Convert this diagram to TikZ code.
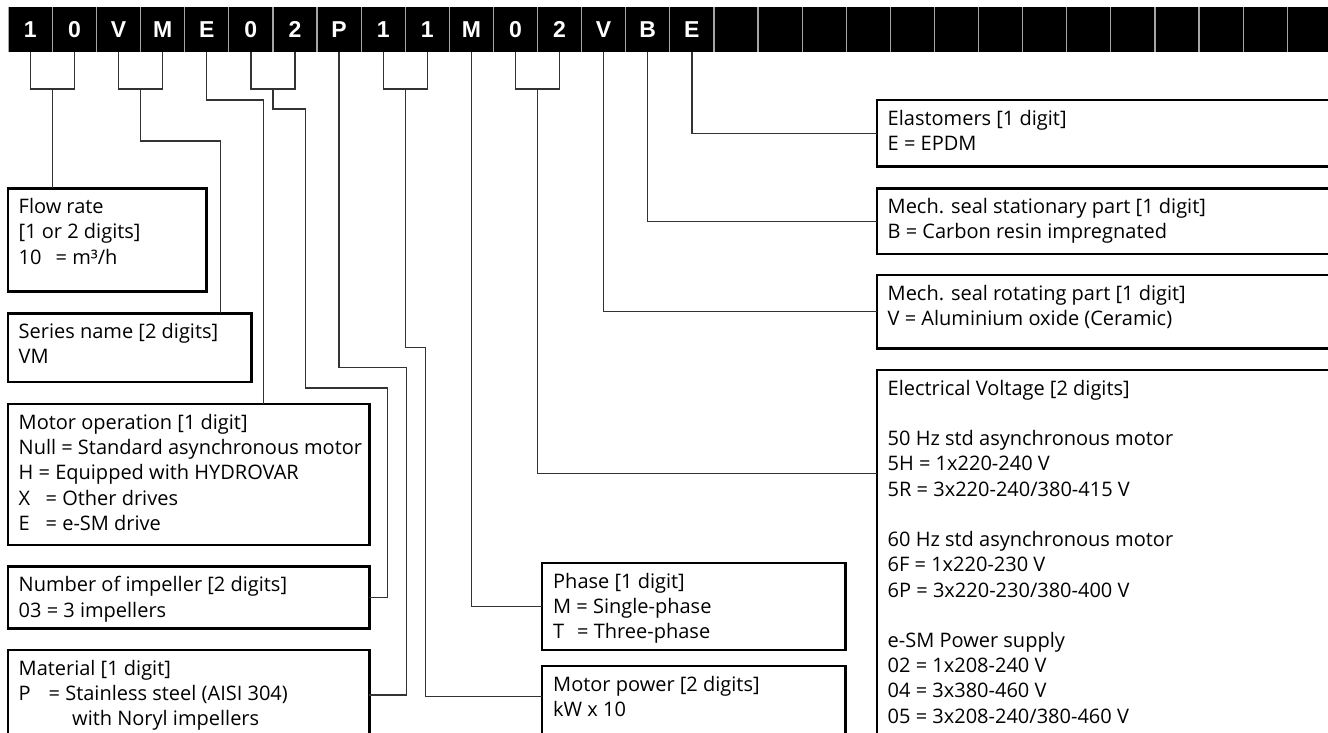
\documentclass[tikz,border=0pt]{standalone}
\usepackage{fontspec}
\setmainfont{Open Sans}
\newfontfamily\barfont{Liberation Sans}
\usetikzlibrary{calc}
\newcommand\fstrut{\rule{0pt}{20pt}}
\tikzset{
  cell/.style={anchor=north west, minimum width=44.1pt, minimum height=45pt, inner sep=0pt, outer sep=0pt,
    fill=black, text=white, font=\barfont\bfseries\fontsize{23}{23}\selectfont},
  sepline/.style={draw=black!35, line width=1.2pt},
  box/.style={draw=black, line width=2.8pt, anchor=north west, inner sep=0pt, outer sep=0pt},
  txt/.style={anchor=north west, align=left, inner sep=0pt, font=\fontsize{20}{25.3}\selectfont},
  conn/.style={draw=black!80, line width=1.3pt},
}
\begin{document}
\begin{tikzpicture}[x=1pt,y=-1pt]
\useasboundingbox (0,0) rectangle (1328,733);
\fill[white] (0,0) rectangle (1328,733);
\clip (0,0) rectangle (1328,733);
% code bar
\foreach \t [count=\n from 0] in {1,0,V,M,E,0,2,P,1,1,M,0,2,V,B,E,{},{},{},{},{},{},{},{},{},{},{},{},{},{}}
  \node[cell] (c\n) at ({8.3+44.1*\n},7) {\t};
\foreach \n in {0,...,29}
  \draw[sepline] (c\n.north west) -- (c\n.south west);
% left boxes
\node[box, minimum width=198.7pt, minimum height=103.4pt] (flow) at (8,188.3) {};
\node[box, minimum width=243.7pt, minimum height=68.7pt] (series) at (8,313.3) {};
\node[box, minimum width=361.3pt, minimum height=141pt] (motorop) at (8,404) {};
\node[box, minimum width=361.3pt, minimum height=61.6pt] (impeller) at (8,566.7) {};
\node[box, minimum width=361.3pt, minimum height=90pt] (material) at (8,650) {};
% middle boxes
\node[box, minimum width=303.7pt, minimum height=87pt] (phase) at (542,563) {};
\node[box, minimum width=303.7pt, minimum height=90pt] (power) at (542,666) {};
% right boxes
\node[box, minimum width=470pt, minimum height=66.7pt] (elast) at (877,100) {};
\node[box, minimum width=470pt, minimum height=65.7pt] (stat) at (877,188.3) {};
\node[box, minimum width=470pt, minimum height=73.3pt] (rot) at (877,275) {};
\node[box, minimum width=470pt, minimum height=400pt] (volt) at (877,370) {};
% texts
\node[txt] (tflow) at ($(flow.north west)+(10.5,5)$) {\fstrut Flow rate\\ {[}1 or 2 digits]\\ \makebox[37pt][l]{10}= m³/h};
\node[txt] (tseries) at ($(series.north west)+(10.5,5)$) {\fstrut Series name [2 digits]\\ VM};
\node[txt] (tmotorop) at ($(motorop.north west)+(10.5,5)$) {\fstrut Motor operation [1 digit]\\ Null = Standard asynchronous motor\\ H = Equipped with HYDROVAR\\ \makebox[27pt][l]{X}= Other drives\\ \makebox[27pt][l]{E}= e-SM drive};
\node[txt] (timpeller) at ($(impeller.north west)+(10.5,5)$) {\fstrut Number of impeller [2 digits]\\ 03 = 3 impellers};
\node[txt] (tmaterial) at ($(material.north west)+(10.5,5)$) {\fstrut Material [1 digit]\\ \makebox[30pt][l]{P}= Stainless steel (AISI 304)\\ \hspace*{53.5pt}with Noryl impellers};
\node[txt] (tphase) at ($(phase.north west)+(11,5)$) {\fstrut Phase [1 digit]\\ M = Single-phase\\ \makebox[24pt][l]{T}= Three-phase};
\node[txt] (tpower) at ($(power.north west)+(11,5)$) {\fstrut Motor power [2 digits]\\ kW x 10};
\node[txt] (telast) at ($(elast.north west)+(10.5,5)$) {\fstrut Elastomers [1 digit]\\ E = EPDM};
\node[txt] (tstat) at ($(stat.north west)+(10.5,5)$) {\fstrut Mech. seal stationary part [1 digit]\\ B = Carbon resin impregnated};
\node[txt] (trot) at ($(rot.north west)+(10.5,5)$) {\fstrut Mech. seal rotating part [1 digit]\\ V = Aluminium oxide (Ceramic)};
\node[txt] (tvolt) at ($(volt.north west)+(10.5,5)$) {\fstrut Electrical Voltage [2 digits]\\[25pt]
  50 Hz std asynchronous motor\\ 5H = 1x220-240 V\\ 5R = 3x220-240/380-415 V\\[25pt]
  60 Hz std asynchronous motor\\ 6F = 1x220-230 V\\ 6P = 3x220-230/380-400 V\\[25pt]
  e-SM Power supply\\ 02 = 1x208-240 V\\ 04 = 3x380-460 V\\ 05 = 3x208-240/380-460 V};
% bracket joints
\coordinate (j1) at ($(c0.south)!0.5!(c1.south)+(0,37)$);
\coordinate (j2) at ($(c2.south)!0.5!(c3.south)+(0,37)$);
\coordinate (j3) at ($(c5.south)!0.5!(c6.south)+(0,37)$);
\coordinate (j4) at ($(c8.south)!0.5!(c9.south)+(0,37)$);
\coordinate (j5) at ($(c11.south)!0.5!(c12.south)+(0,37)$);
\foreach \a/\b in {0/1,2/3,5/6,8/9,11/12}
  \draw[conn] (c\a.south) -- ++(0,37) -| (c\b.south);
% connectors
\coordinate (k2) at (220.7,141);
\coordinate (k3) at (263.3,100);
\coordinate (k4a) at (305.7,109);
\coordinate (k4b) at (387.7,388);
\coordinate (k5) at (406.7,367.7);
\coordinate (k6) at (425.7,347.7);
\coordinate (ppow) at ($(power.north west)+(0,30.7)$);
\coordinate (pvolt) at ($(volt.north west)+(0,103.3)$);
\draw[conn] (j1) -- (j1 |- flow.north);
\draw[conn] (j2) |- (k2) -- (k2 |- series.north);
\draw[conn] (c4.south) |- (k3) -- (k3 |- motorop.north);
\draw[conn] (j3) |- (k4a) |- (k4b) |- (impeller.east);
\draw[conn] (c7.south) |- (k5) |- (material.east);
\draw[conn] (j4) |- (k6) |- (ppow);
\draw[conn] (c10.south) |- (phase.west);
\draw[conn] (j5) |- (pvolt);
\draw[conn] (c13.south) |- (rot.west);
\draw[conn] (c14.south) |- (stat.west);
\draw[conn] (c15.south) |- (elast.west);
\end{tikzpicture}
\end{document}
